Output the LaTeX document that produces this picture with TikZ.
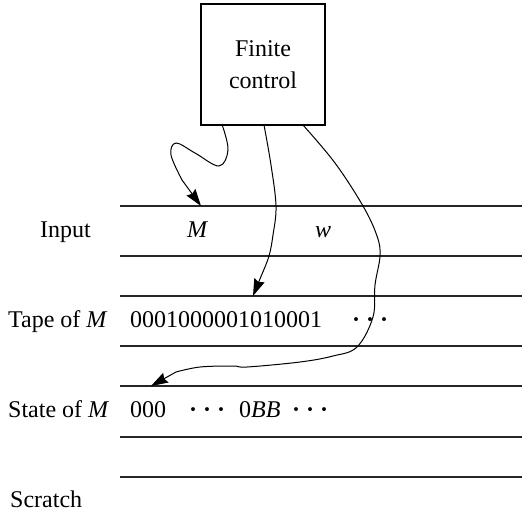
\documentclass[tikz,border=0pt]{standalone}
\usepackage{fontspec}
\setmainfont{Liberation Serif}
\usetikzlibrary{arrows.meta,calc}
\begin{document}
\begin{tikzpicture}[x=1pt,y=-1pt,
  lbl/.style={anchor=base west,inner sep=0pt,font=\fontsize{24}{32}\selectfont},
  tapeline/.style={line width=1.3pt,draw=black!85},
  conn/.style={line width=1pt},
  tip/.style={line width=1pt,-{Stealth[length=17pt,width=11pt,inset=2pt]}}]
\useasboundingbox (0,0) rectangle (522,527);
\node[draw,line width=1.2pt,minimum width=124pt,minimum height=121pt,inner sep=0pt,
  align=center,font=\fontsize{24}{32}\selectfont] (fc) at (263,64.5) {Finite\\control};
% tape lines
\foreach \yy/\nm in {206/a,256/b,296/c,346/d,386/e,437/f,477/g}{
  \coordinate (l\nm) at (120,\yy);
  \coordinate (r\nm) at (522,\yy);
  \draw[tapeline] (l\nm) -- (r\nm);
}
% labels
\node[lbl] (input) at (40,237) {Input};
\node[lbl] (inM) at (187,237) {\textit{M}};
\node[lbl] (inw) at (315,237) {\textit{w}};
\node[lbl] (tape) at (8,327) {Tape of \textit{M}};
\node[lbl] (tapec) at (130,327) {0001000001010001};
\node[lbl] (taped) at (352,327) {\textbf{·}\kern6pt\textbf{·}\kern6pt\textbf{·}};
\node[lbl] (state) at (8,417) {State of \textit{M}};
\node[lbl] (st1) at (130,417) {000};
\node[lbl] (st2) at (189,417) {\textbf{·}\kern6pt\textbf{·}\kern6pt\textbf{·}};
\node[lbl] (st3) at (239,417) {0\textit{BB}};
\node[lbl] (st4) at (292,417) {\textbf{·}\kern6pt\textbf{·}\kern6pt\textbf{·}};
\node[lbl] (scr) at (10,507) {Scratch};
% connector end points
\coordinate (c1s) at ($(fc.south west)+(22,0)$);
\coordinate (c2s) at (264,125);
\coordinate (c3s) at (303,125);
\coordinate (c1e) at (201,206);
\coordinate (c2e) at (253,296);
\coordinate (c3e) at (151,386);
\coordinate (c1m) at (182,180);
\coordinate (c2m) at (262,274);
\coordinate (c3m) at (176,372);
\draw[conn] plot[smooth,tension=0.6] coordinates {(c1s) (228,150) (219,166) (195,153) (176,143) (171,155) (c1m)};
\draw[tip] (c1m) -- (c1e);
\draw[conn] plot[smooth,tension=0.6] coordinates {(c2s) (271,165) (276,206) (273,235) (269,256) (c2m)};
\draw[tip] (c2m) -- (c2e);
\draw[conn] plot[smooth,tension=0.6] coordinates {(c3s) (335,163) (363,206) (377,236) (380,256) (375,285) (373,317) (357,347) (333,356) (300,362) (247,367) (233,366) (200,367) (c3m)};
\draw[tip] (c3m) -- (c3e);
\end{tikzpicture}
\end{document}
